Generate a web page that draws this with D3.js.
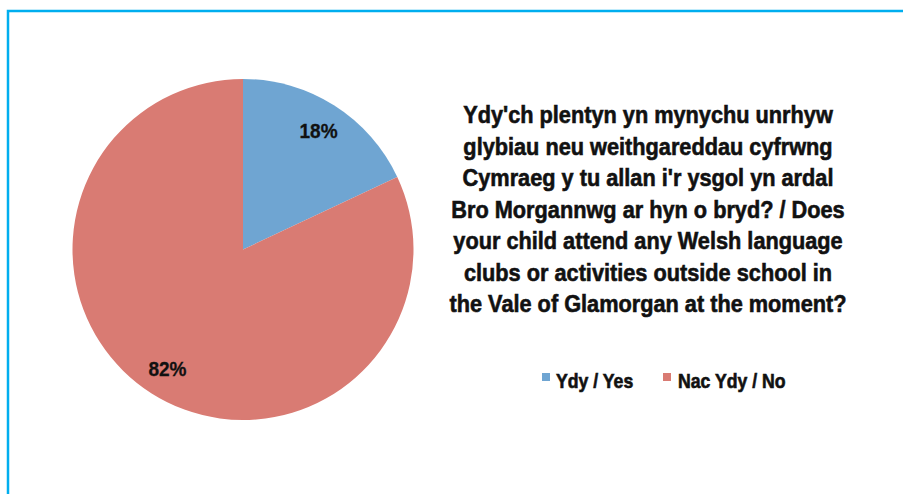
<!DOCTYPE html>
<html><head><meta charset="utf-8">
<script src="https://cdn.jsdelivr.net/npm/d3@7"></script>
<style>
html,body{margin:0;padding:0;background:#fff;}
svg text{font-family:"Liberation Sans",Arial,sans-serif;font-weight:bold;fill:#111;}
svg text.heavy{stroke:#111;stroke-width:0.6px;}
</style></head>
<body>
<svg id="c" width="903" height="494"></svg>
<script>
const categories = ["Ydy / Yes", "Nac Ydy / No"];
const values = [18, 82];
const valueLabels = ["18%", "82%"];
const colors = ["#6fa5d2", "#d97b73"];
const titleLines = [
  "Ydy'ch plentyn yn mynychu unrhyw",
  "glybiau neu weithgareddau cyfrwng",
  "Cymraeg y tu allan i'r ysgol yn ardal",
  "Bro Morgannwg ar hyn o bryd? / Does",
  "your child attend any Welsh language",
  "clubs or activities outside school in",
  "the Vale of Glamorgan at the moment?"
];

const svg = d3.select("#c");
svg.append("path").attr("d","M8,494 L8,11 L903,11").attr("fill","none")
  .attr("stroke","#00aeef").attr("stroke-width",2.5);

// condensed look: measure first title line and derive horizontal squeeze
const probe = svg.append("text").style("font-size","24px").text(titleLines[0]);
const sx = 370 / probe.node().getComputedTextLength();
probe.remove();

const cx = 243, cy = 249.5, R = 170.5;
const pie = d3.pie().sort(null).value(d=>d)(values);
const arc = d3.arc().innerRadius(0).outerRadius(R);
const labelArc = d3.arc().innerRadius(141).outerRadius(141);
const g = svg.append("g").attr("transform",`translate(${cx},${cy})`);
g.selectAll("path").data(pie).join("path")
  .attr("d",arc).attr("fill",(d,i)=>colors[i]);
g.selectAll("text").data(pie).join("text")
  .attr("class","heavy").style("stroke-width","0.3px")
  .attr("transform",d=>`translate(${labelArc.centroid(d)}) scale(${sx},1)`)
  .attr("text-anchor","middle").attr("dy","0.36em")
  .style("font-size","21px")
  .text((d,i)=>valueLabels[i]);

titleLines.forEach((s,i)=>{
  svg.append("text").attr("class","heavy")
   .attr("transform",`translate(648,${123+i*31.5}) scale(${sx},1)`)
   .attr("text-anchor","middle").style("font-size","24px").text(s);
});

const leg = [{x:542, tx:556},{x:663, tx:678}];
categories.forEach((c,i)=>{
  svg.append("rect").attr("x",leg[i].x).attr("y",373).attr("width",8).attr("height",8).attr("fill",colors[i]);
  svg.append("text").attr("class","heavy")
    .attr("transform",`translate(${leg[i].tx},388) scale(${sx},1)`)
    .style("font-size","19.5px").text(c);
});
</script>
</body></html>
